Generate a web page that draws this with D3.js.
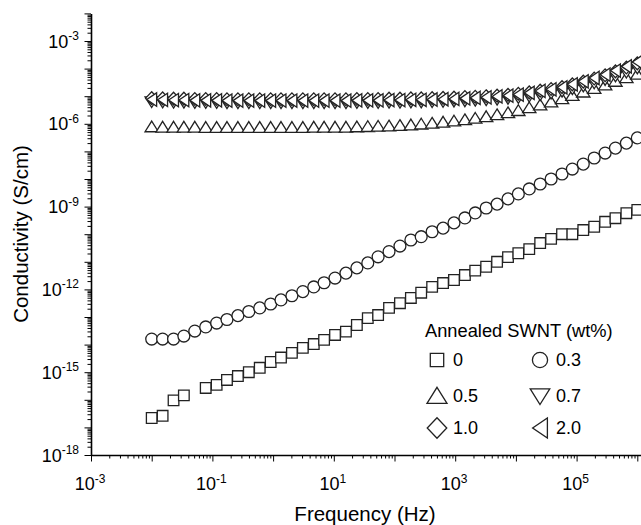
<!DOCTYPE html>
<html lang="en">
<head>
  <meta charset="UTF-8">
  <title>Conductivity vs frequency</title>
  <script src="https://d3js.org/d3.v7.min.js"></script>
  <style>
    body { margin: 0; background: #fff; }
    svg { display: block; font-family: "Liberation Sans", Arial, sans-serif; }
    .axis path, .axis line { stroke: #000; }
    .mark { fill: #fff; stroke: #222; stroke-width: 1.3; }
  </style>
</head>
<body>
  <svg width="641" height="525"></svg>

  <script>
    // log10 of frequency (Hz), shared by all samples
    const freqExp = [-2.00, -1.82, -1.64, -1.47, -1.29, -1.11, -0.93, -0.76, -0.58, -0.40,
      -0.22, -0.04, 0.13, 0.31, 0.49, 0.67, 0.84, 1.02, 1.20, 1.38,
      1.56, 1.73, 1.91, 2.09, 2.27, 2.44, 2.62, 2.80, 2.98, 3.16,
      3.33, 3.51, 3.69, 3.87, 4.04, 4.22, 4.40, 4.58, 4.76, 4.93,
      5.11, 5.29, 5.47, 5.64, 5.82, 6.00];

    // log10 of conductivity (S/cm) for each SWNT loading
    const sigma0 = [-16.66, -16.58, -16.02, -15.84, null, -15.57, -15.46, -15.28, -15.14, -15.00,
      -14.84, -14.63, -14.47, -14.30, -14.12, -13.98, -13.83, -13.65, -13.53, -13.29,
      -13.04, -12.93, -12.67, -12.50, -12.31, -12.12, -11.91, -11.77, -11.66, -11.48,
      -11.32, -11.18, -11.00, -10.83, -10.69, -10.54, -10.32, -10.17, -10.00, -10.00,
      -9.85, -9.73, -9.55, -9.42, -9.24, -9.12];
    const sigma03 = [-13.80, -13.80, -13.80, -13.69, -13.51, -13.36, -13.22, -13.09, -12.95, -12.80,
      -12.67, -12.53, -12.38, -12.23, -12.08, -11.91, -11.76, -11.59, -11.41, -11.22,
      -11.04, -10.82, -10.63, -10.43, -10.21, -10.09, -9.91, -9.78, -9.59, -9.41,
      -9.23, -9.05, -8.91, -8.72, -8.54, -8.36, -8.18, -8.00, -7.82, -7.64,
      -7.46, -7.24, -7.06, -6.88, -6.70, -6.51];
    const sigma05 = [-6.11, -6.12, -6.12, -6.12, -6.12, -6.13, -6.13, -6.13, -6.13, -6.13,
      -6.13, -6.13, -6.13, -6.13, -6.13, -6.12, -6.12, -6.12, -6.12, -6.11,
      -6.10, -6.09, -6.08, -6.06, -6.04, -6.01, -5.98, -5.94, -5.90, -5.85,
      -5.80, -5.74, -5.67, -5.60, -5.52, -5.42, -5.32, -5.21, -5.09, -4.97,
      -4.85, -4.72, -4.59, -4.46, -4.33, -4.20];
    const sigma07 = [-5.20, -5.21, -5.22, -5.22, -5.23, -5.23, -5.23, -5.24, -5.24, -5.24,
      -5.24, -5.24, -5.24, -5.24, -5.24, -5.24, -5.24, -5.24, -5.24, -5.23,
      -5.23, -5.23, -5.22, -5.22, -5.21, -5.21, -5.20, -5.19, -5.18, -5.17,
      -5.15, -5.13, -5.11, -5.08, -5.05, -5.00, -4.95, -4.89, -4.82, -4.73,
      -4.63, -4.52, -4.40, -4.27, -4.13, -3.98];
    const sigma10 = [-5.07, -5.08, -5.09, -5.09, -5.10, -5.10, -5.10, -5.11, -5.11, -5.11,
      -5.11, -5.11, -5.11, -5.11, -5.11, -5.11, -5.11, -5.11, -5.11, -5.10,
      -5.10, -5.10, -5.09, -5.09, -5.08, -5.08, -5.07, -5.06, -5.05, -5.03,
      -5.02, -5.00, -4.98, -4.95, -4.91, -4.86, -4.80, -4.74, -4.67, -4.57,
      -4.47, -4.36, -4.24, -4.10, -3.96, -3.81];
    const sigma20 = [-5.12, -5.13, -5.14, -5.14, -5.15, -5.15, -5.15, -5.16, -5.16, -5.16,
      -5.16, -5.16, -5.16, -5.16, -5.16, -5.16, -5.16, -5.16, -5.16, -5.15,
      -5.15, -5.15, -5.14, -5.14, -5.13, -5.13, -5.12, -5.11, -5.10, -5.08,
      -5.06, -5.04, -5.01, -4.98, -4.94, -4.88, -4.81, -4.75, -4.68, -4.57,
      -4.46, -4.34, -4.22, -4.07, -3.92, -3.76];

    const loadings = ["0", "0.3", "0.5", "0.7", "1.0", "2.0"];
    const shapes = ["square", "circle", "up", "down", "diamond", "left"];
    const xTickExp = [-3, -1, 1, 3, 5];
    const yTickExp = [-18, -15, -12, -9, -6, -3];

    const allSeries = [sigma0, sigma03, sigma05, sigma07, sigma10, sigma20];

    const svg = d3.select("svg");

    // scales: one decade is about 60.7 px in x and 27.6 px in y
    const x = d3.scaleLog().domain([1e-3, 1e7]).range([91, 698]);
    const y = d3.scaleLog().domain([1e-18, 1e-2]).range([455, 13.4]);

    // x axis, major + minor ticks
    const xMajor = d3.range(-3, 8).map(e => Math.pow(10, e));
    const xMinor = [];
    d3.range(-3, 7).forEach(e => d3.range(2, 10).forEach(m => xMinor.push(m * Math.pow(10, e))));

    svg.append("g").attr("class", "axis")
      .attr("transform", "translate(0,455)")
      .call(d3.axisBottom(x).tickValues(xMinor).tickSize(3.5).tickSizeOuter(0).tickFormat(""))
      .call(g => g.select(".domain").remove());
    svg.append("g").attr("class", "axis")
      .attr("transform", "translate(0,455)")
      .call(d3.axisBottom(x).tickValues(xMajor).tickSize(6.5).tickSizeOuter(0).tickFormat(""))
      .call(g => g.select(".domain").attr("stroke-width", 1.6));

    // y axis
    const yMajor = d3.range(-18, -1).map(e => Math.pow(10, e));
    const yMinor = [];
    d3.range(-18, -2).forEach(e => d3.range(2, 10).forEach(m => yMinor.push(m * Math.pow(10, e))));

    svg.append("g").attr("class", "axis")
      .attr("transform", "translate(91,0)")
      .call(d3.axisLeft(y).tickValues(yMinor).tickSize(3.5).tickSizeOuter(0).tickFormat(""))
      .call(g => g.select(".domain").remove());
    svg.append("g").attr("class", "axis")
      .attr("transform", "translate(91,0)")
      .call(d3.axisLeft(y).tickValues(yMajor).tickSize(6.5).tickSizeOuter(0).tickFormat(""))
      .call(g => g.select(".domain").attr("stroke-width", 1.6));

    // tick labels with superscript exponents
    function powLabel(sel, e) {
      sel.append("tspan").text("10");
      sel.append("tspan").attr("dy", -7.5).attr("font-size", 12).text(e);
    }
    xTickExp.forEach(e => {
      svg.append("text")
        .attr("x", x(Math.pow(10, e)) - 1)
        .attr("y", 490)
        .attr("text-anchor", "middle")
        .attr("font-size", 18)
        .call(powLabel, e);
    });
    yTickExp.forEach(e => {
      svg.append("text")
        .attr("x", 79)
        .attr("y", y(Math.pow(10, e)) + 6.5)
        .attr("text-anchor", "end")
        .attr("font-size", 18)
        .call(powLabel, e);
    });

    // axis titles
    svg.append("text")
      .attr("x", 365).attr("y", 521)
      .attr("text-anchor", "middle")
      .attr("font-size", 20.5)
      .text("Frequency (Hz)");
    svg.append("text")
      .attr("transform", "translate(28,234) rotate(-90)")
      .attr("text-anchor", "middle")
      .attr("font-size", 20.5)
      .text("Conductivity (S/cm)");

    // marker shapes, s = half size
    function shapePath(type, s) {
      switch (type) {
        case "square": return `M${-s},${-s}H${s}V${s}H${-s}Z`;
        case "up": return `M0,${-s}L${s * 1.15},${s * 0.85}H${-s * 1.15}Z`;
        case "down": return `M0,${s}L${s * 1.15},${-s * 0.85}H${-s * 1.15}Z`;
        case "left": return `M${-s * 0.85},0L${s * 0.85},${-s * 1.15}V${s * 1.15}Z`;
        case "diamond": return `M0,${-s * 1.1}L${s * 1.05},0L0,${s * 1.1}L${-s * 1.05},0Z`;
      }
    }
    function drawMark(g, type, px, py, s) {
      if (type === "circle") {
        g.append("circle").attr("class", "mark").attr("cx", px).attr("cy", py).attr("r", s * 1.1);
      } else {
        g.append("path").attr("class", "mark")
          .attr("transform", `translate(${px},${py})`)
          .attr("d", shapePath(type, s));
      }
    }

    const markSize = { square: 5.3, circle: 5.4, up: 5.8, down: 5.8, diamond: 5.8, left: 5.8 };
    const legSize = { square: 6.7, circle: 6.9, up: 8.7, down: 8.5, diamond: 9.3, left: 8.7 };

    const plot = svg.append("g");
    allSeries.forEach((vals, k) => {
      const pts = freqExp.map((f, i) => ({ f: Math.pow(10, f), v: vals[i] }))
        .filter(d => d.v !== null);
      const g = plot.append("g");
      pts.forEach(d => {
        drawMark(g, shapes[k], x(d.f), y(Math.pow(10, d.v)), markSize[shapes[k]]);
      });
    });

    // legend
    const legend = svg.append("g");
    legend.append("text")
      .attr("x", 425).attr("y", 337)
      .attr("font-size", 18.3)
      .text("Annealed SWNT (wt%)");
    const legCols = [437, 540];
    const legRows = [360, 396, 428];
    loadings.forEach((name, k) => {
      const cx = legCols[k % 2];
      const cy = legRows[Math.floor(k / 2)];
      drawMark(legend, shapes[k], cx, cy, legSize[shapes[k]]);
      legend.append("text")
        .attr("x", cx + 16).attr("y", cy + 6)
        .attr("font-size", 18)
        .text(name);
    });
  </script>
</body>
</html>
